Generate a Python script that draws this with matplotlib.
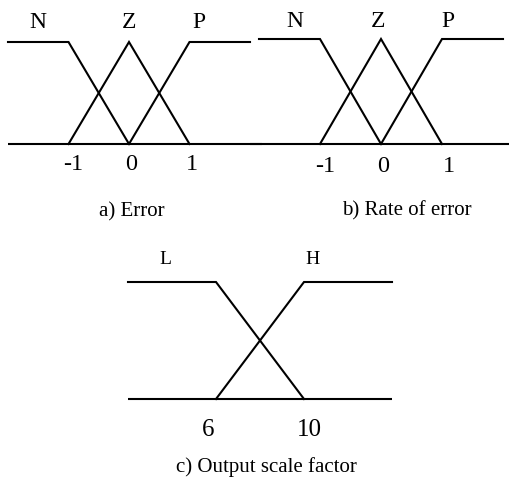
import matplotlib
matplotlib.use("Agg")
from matplotlib import pyplot as plt

plt.rcParams['font.family'] = ['Liberation Serif', 'DejaVu Serif']

W, H = 510, 488

# membership functions, one (x list, y list) per term
err_terms = ['N', 'Z', 'P']
err_x = [[-2, -1, 0], [-1, 0, 1], [0, 1, 2]]
err_y = [[1, 1, 0], [0, 1, 0], [0, 1, 1]]
err_label_x = [-1.5, 0, 1.15]
err_ticks = [-1, 0, 1]
err_tick_labels = ['-1', '0', '1']

rate_terms = ['N', 'Z', 'P']
rate_x = [[-2, -1, 0], [-1, 0, 1], [0, 1, 2]]
rate_y = [[1, 1, 0], [0, 1, 0], [0, 1, 1]]
rate_label_x = [-1.42, -0.05, 1.1]
rate_ticks = [-1, 0, 1]
rate_tick_labels = ['-1', '0', '1']

out_terms = ['L', 'H']
out_x = [[2, 6, 10], [6, 10, 14]]
out_y = [[1, 1, 0], [0, 1, 1]]
out_label_x = [3.7, 10.4]
out_ticks = [6, 10]
out_tick_labels = ['6', '10']

captions = ['a) Error', 'b) Rate of error', 'c) Output scale factor']


def make_axes(fig, left, top, width, height, zero_px, unit_px, base_px, height_px):
    # axes placed in pixels, limits chosen so data units land where wanted
    # zero_px = pixel column of x == 0
    ax = fig.add_axes([left / W, 1 - (top + height) / H, width / W, height / H])
    ax.set_xlim((left - zero_px) / unit_px, (left + width - zero_px) / unit_px)
    ax.set_ylim((base_px - (top + height)) / height_px, (base_px - top) / height_px)
    ax.axis('off')
    return ax


def draw_panel(ax, xs, ys, terms, label_x, label_y, ticks, tick_labels, tick_dx,
               base_range, caption, cap_x, cap_y, fs_label, fs_tick, fs_cap, tick_y):
    lw = 1.5
    ax.plot(base_range, [0, 0], color='black', lw=lw, clip_on=False,
            solid_capstyle='butt')
    for x, y in zip(xs, ys):
        ax.plot(x, y, color='black', lw=lw, clip_on=False, solid_joinstyle='miter')
    for t, lx in zip(terms, label_x):
        ax.text(lx, label_y, t, ha='center', va='center', fontsize=fs_label)
    for v, lab, dx in zip(ticks, tick_labels, tick_dx):
        ax.text(v + dx, tick_y, lab, ha='center', va='center', fontsize=fs_tick)
    ax.text(cap_x, cap_y, caption, ha='center', va='center', fontsize=fs_cap)


fig = plt.figure(figsize=(W / 100, H / 100), dpi=100)

ax_a = make_axes(fig, 0, 0, 255, 235, 129, 60.5, 144, 102)
draw_panel(ax_a, err_x, err_y, err_terms, err_label_x, 1.19, err_ticks,
           err_tick_labels, [0.07, 0.04, 0.04], [-2, 2.2], captions[0], 0.05, -0.67,
           17, 17.5, 15, -0.2)

ax_b = make_axes(fig, 255, 0, 255, 235, 381, 61, 144, 105)
draw_panel(ax_b, rate_x, rate_y, rate_terms, rate_label_x, 1.17, rate_ticks,
           rate_tick_labels, [0.08, 0.03, 0.12], [-2.15, 2.1], captions[1], 0.43, -0.64,
           17, 17.5, 15, -0.21)

ax_c = make_axes(fig, 100, 240, 320, 248, 216 - 6 * 22, 22, 399, 117)
draw_panel(ax_c, out_x, out_y, out_terms, out_label_x, 1.19, out_ticks,
           out_tick_labels, [-0.35, 0.25], [2, 14], captions[2], 8.3, -0.58,
           14, 18, 15, -0.265)

fig.savefig('out.png', dpi=100)
